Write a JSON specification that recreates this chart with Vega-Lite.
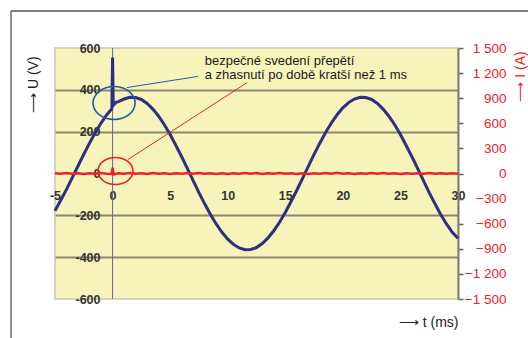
{
  "$schema": "https://vega.github.io/schema/vega-lite/v6.json",
  "width": 403,
  "height": 251,
  "autosize": "none",
  "padding": {"left": 55, "top": 48, "right": 70, "bottom": 39},
  "background": "white",
  "config": {
    "view": {"fill": "#f6f3bb", "stroke": "#c9c7b0", "strokeWidth": 1.5},
    "font": "Liberation Sans"
  },
  "datasets": {
    "u": [
      {"t": -5, "U": -178}, {"t": -4.5, "U": -128}, {"t": -4, "U": -76}, {"t": -3.5, "U": -20},
      {"t": -3, "U": 36}, {"t": -2.5, "U": 92}, {"t": -2, "U": 145}, {"t": -1.5, "U": 196},
      {"t": -1, "U": 241}, {"t": -0.5, "U": 281}, {"t": -0.06, "U": 310}, {"t": 0, "U": 555},
      {"t": 0.06, "U": 326}, {"t": 0.3, "U": 340}, {"t": 0.5, "U": 344}, {"t": 1, "U": 356},
      {"t": 1.5, "U": 364}, {"t": 2, "U": 363}, {"t": 2.5, "U": 354}, {"t": 3, "U": 335},
      {"t": 3.5, "U": 308}, {"t": 4, "U": 274}, {"t": 4.5, "U": 233}, {"t": 5, "U": 186},
      {"t": 5.5, "U": 134}, {"t": 6, "U": 80}, {"t": 6.5, "U": 23}, {"t": 7, "U": -34},
      {"t": 7.5, "U": -91}, {"t": 8, "U": -145}, {"t": 8.5, "U": -196}, {"t": 9, "U": -241},
      {"t": 9.5, "U": -281}, {"t": 10, "U": -314}, {"t": 10.5, "U": -339}, {"t": 11, "U": -356},
      {"t": 11.5, "U": -364}, {"t": 12, "U": -363}, {"t": 12.5, "U": -354}, {"t": 13, "U": -335},
      {"t": 13.5, "U": -308}, {"t": 14, "U": -274}, {"t": 14.5, "U": -233}, {"t": 15, "U": -186},
      {"t": 15.5, "U": -134}, {"t": 16, "U": -80}, {"t": 16.5, "U": -23}, {"t": 17, "U": 34},
      {"t": 17.5, "U": 91}, {"t": 18, "U": 145}, {"t": 18.5, "U": 196}, {"t": 19, "U": 241},
      {"t": 19.5, "U": 281}, {"t": 20, "U": 314}, {"t": 20.5, "U": 339}, {"t": 21, "U": 356},
      {"t": 21.5, "U": 364}, {"t": 22, "U": 363}, {"t": 22.5, "U": 354}, {"t": 23, "U": 335},
      {"t": 23.5, "U": 308}, {"t": 24, "U": 274}, {"t": 24.5, "U": 233}, {"t": 25, "U": 186},
      {"t": 25.5, "U": 134}, {"t": 26, "U": 80}, {"t": 26.5, "U": 23}, {"t": 27, "U": -34},
      {"t": 27.5, "U": -91}, {"t": 28, "U": -145}, {"t": 28.5, "U": -196}, {"t": 29, "U": -241},
      {"t": 29.5, "U": -281}, {"t": 30, "U": -310}
    ],
    "i": [
      {"t": -5, "I": 2}, {"t": -4.5, "I": -4}, {"t": -4, "I": 5}, {"t": -3.5, "I": -3},
      {"t": -3, "I": 4}, {"t": -2.5, "I": -5}, {"t": -2, "I": 3}, {"t": -1.5, "I": -4},
      {"t": -1, "I": 5}, {"t": -0.5, "I": -3}, {"t": -0.1, "I": -6}, {"t": 0, "I": 70},
      {"t": 0.1, "I": -10}, {"t": 0.5, "I": 4}, {"t": 1, "I": -3}, {"t": 1.5, "I": 5},
      {"t": 2, "I": -4}, {"t": 2.5, "I": 3}, {"t": 3, "I": -5}, {"t": 3.5, "I": 6},
      {"t": 4, "I": -3}, {"t": 4.5, "I": 4}, {"t": 5, "I": -5}, {"t": 5.5, "I": 3},
      {"t": 6, "I": -3}, {"t": 6.5, "I": 5}, {"t": 7, "I": -4}, {"t": 7.5, "I": 6},
      {"t": 8, "I": -3}, {"t": 8.5, "I": 3}, {"t": 9, "I": -5}, {"t": 9.5, "I": 4},
      {"t": 10, "I": -6}, {"t": 10.5, "I": 3}, {"t": 11, "I": -3}, {"t": 11.5, "I": 5},
      {"t": 12, "I": -4}, {"t": 12.5, "I": 6}, {"t": 13, "I": -5}, {"t": 13.5, "I": 3},
      {"t": 14, "I": -3}, {"t": 14.5, "I": 5}, {"t": 15, "I": -4}, {"t": 15.5, "I": 3},
      {"t": 16, "I": -5}, {"t": 16.5, "I": 3}, {"t": 17, "I": -6}, {"t": 17.5, "I": 4},
      {"t": 18, "I": -3}, {"t": 18.5, "I": 5}, {"t": 19, "I": -4}, {"t": 19.5, "I": 8},
      {"t": 20, "I": -3}, {"t": 20.5, "I": 3}, {"t": 21, "I": -5}, {"t": 21.5, "I": 4},
      {"t": 22, "I": -3}, {"t": 22.5, "I": 5}, {"t": 23, "I": -3}, {"t": 23.5, "I": 6},
      {"t": 24, "I": -4}, {"t": 24.5, "I": 3}, {"t": 25, "I": -5}, {"t": 25.5, "I": 3},
      {"t": 26, "I": -3}, {"t": 26.5, "I": 4}, {"t": 27, "I": -3}, {"t": 27.5, "I": 5},
      {"t": 28, "I": -4}, {"t": 28.5, "I": 3}, {"t": 29, "I": -3}, {"t": 29.5, "I": 4},
      {"t": 30, "I": -2}
    ],
    "frame": [
      {"t": -8.82, "U": 777, "t2": 36.2, "U2": 777},
      {"t": -8.82, "U": 777, "t2": -8.82, "U2": -790}
    ],
    "marker": [{"t": 0, "U": -600, "U2": 600}],
    "notes": [
      {"kind": "blue", "t": 0.13, "U": 337, "t2": 7.4, "U2": 464, "ts": 1.25, "Us": 411},
      {"kind": "red", "t": 0.25, "U": 12, "t2": 11.7, "U2": 435, "ts": 1.34, "Us": 67}
    ],
    "text": [
      {"t": 8.0, "U": 540, "label": "bezpečné svedení přepětí"},
      {"t": 8.0, "U": 470, "label": "a zhasnutí po době kratší než 1 ms"}
    ]
  },
  "encoding": {
    "x": {
      "field": "t",
      "type": "quantitative",
      "scale": {"domain": [-5, 30], "nice": false, "zero": false},
      "axis": {
        "orient": "bottom",
        "offset": -125,
        "values": [-5, 0, 5, 10, 15, 20, 25, 30],
        "domain": false,
        "ticks": false,
        "tickSize": 0,
        "grid": false,
        "labelExpr": "'' + datum.value",
        "labelFontWeight": "bold",
        "labelFontSize": 12.5,
        "labelColor": "#333333",
        "labelPadding": 15,
        "labelFlush": false,
        "labelOverlap": false,
        "title": "⟶ t (ms)",
        "titleX": 403,
        "titleY": 148,
        "titleAlign": "right",
        "titleBaseline": "middle",
        "titleAngle": 0,
        "titleFontSize": 14,
        "titleFontWeight": "normal",
        "titleColor": "#222222"
      }
    }
  },
  "layer": [
    {
      "encoding": {
        "y": {
          "field": "U",
          "type": "quantitative",
          "scale": {"domain": [-600, 600], "nice": false, "zero": false},
          "axis": {
            "orient": "left",
            "values": [-600, -400, -200, 0, 200, 400, 600],
            "domain": false,
            "ticks": false,
            "tickSize": 0,
            "labelPadding": -45,
            "labelAlign": "right",
            "labelBaseline": "middle",
            "labelExpr": "'' + datum.value",
            "labelFontWeight": "bold",
            "labelFontSize": 12.5,
            "labelColor": "#333333",
            "labelFlush": false,
            "labelOverlap": false,
            "grid": true,
            "gridColor": {"condition": {"test": "abs(datum.value) == 600 || datum.value == 0", "value": "transparent"}, "value": "#8c8870"},
            "gridWidth": 2,
            "title": "⟶ U (V)",
            "titleX": -22,
            "titleY": 36,
            "titleAngle": -90,
            "titleAlign": "center",
            "titleBaseline": "middle",
            "titleFontSize": 14,
            "titleFontWeight": "normal",
            "titleColor": "#222222"
          }
        }
      },
      "layer": [
        {
          "data": {"name": "frame"},
          "mark": {"type": "rule", "clip": false, "color": "#555555", "strokeWidth": 1.3},
          "encoding": {"x2": {"field": "t2"}, "y2": {"field": "U2"}}
        },
        {
          "data": {"name": "marker"},
          "mark": {"type": "rule", "color": "#6464a8", "strokeWidth": 1},
          "encoding": {"y2": {"field": "U2"}}
        },
        {
          "data": {"name": "u"},
          "mark": {"type": "line", "color": "#2e2e82", "strokeWidth": 3},
          "encoding": {}
        },
        {
          "data": {"name": "notes"},
          "transform": [{"filter": "datum.kind == 'blue'"}],
          "mark": {"type": "point", "filled": false, "shape": "M -1 0 A 1 0.786 0 1 0 1 0 A 1 0.786 0 1 0 -1 0 Z", "size": 1764, "stroke": "#1f5ca8", "strokeWidth": 1.6, "opacity": 1},
          "encoding": {}
        },
        {
          "data": {"name": "notes"},
          "transform": [{"filter": "datum.kind == 'red'"}],
          "mark": {"type": "point", "filled": false, "shape": "M -1 0 A 1 0.77 0 1 0 1 0 A 1 0.77 0 1 0 -1 0 Z", "size": 1225, "stroke": "#e8232b", "strokeWidth": 1.6, "opacity": 1},
          "encoding": {}
        },
        {
          "data": {"name": "notes"},
          "transform": [{"filter": "datum.kind == 'blue'"}],
          "mark": {"type": "rule", "color": "#1f5ca8", "strokeWidth": 1},
          "encoding": {"x": {"field": "ts", "type": "quantitative"}, "y": {"field": "Us", "type": "quantitative"}, "x2": {"field": "t2"}, "y2": {"field": "U2"}}
        },
        {
          "data": {"name": "notes"},
          "transform": [{"filter": "datum.kind == 'red'"}],
          "mark": {"type": "rule", "color": "#e8232b", "strokeWidth": 1},
          "encoding": {"x": {"field": "ts", "type": "quantitative"}, "y": {"field": "Us", "type": "quantitative"}, "x2": {"field": "t2"}, "y2": {"field": "U2"}}
        },
        {
          "data": {"name": "text"},
          "mark": {"type": "text", "align": "left", "baseline": "middle", "fontSize": 13, "color": "#1a1a1a", "font": "Liberation Sans"},
          "encoding": {"text": {"field": "label"}}
        }
      ]
    },
    {
      "data": {"name": "i"},
      "mark": {"type": "line", "color": "#e8232b", "strokeWidth": 2.5},
      "encoding": {
        "y": {
          "field": "I",
          "type": "quantitative",
          "scale": {"domain": [-1500, 1500], "nice": false, "zero": false},
          "axis": {
            "orient": "right",
            "values": [-1500, -1200, -900, -600, -300, 0, 300, 600, 900, 1200, 1500],
            "domain": true,
            "domainColor": "#7a7a70",
            "domainWidth": 2,
            "ticks": true,
            "tickColor": "#666660",
            "tickSize": 5,
            "tickWidth": 1.5,
            "labelPadding": 43,
            "labelAlign": "right",
            "labelBaseline": "middle",
            "labelColor": "#e8232b",
            "labelFontSize": 13.5,
            "labelFlush": false,
            "labelOverlap": false,
            "labelExpr": "datum.value == 0 ? '0' : (datum.value < 0 ? '−' : '') + replace(format(abs(datum.value), ','), ',', ' ')",
            "grid": false,
            "title": "⟶ I (A)",
            "titleColor": "#e8232b",
            "titleX": 62,
            "titleY": 28,
            "titleAngle": -90,
            "titleAlign": "center",
            "titleBaseline": "middle",
            "titleFontSize": 14,
            "titleFontWeight": "normal"
          }
        }
      }
    }
  ],
  "resolve": {"scale": {"y": "independent"}, "axis": {"y": "independent"}}
}
